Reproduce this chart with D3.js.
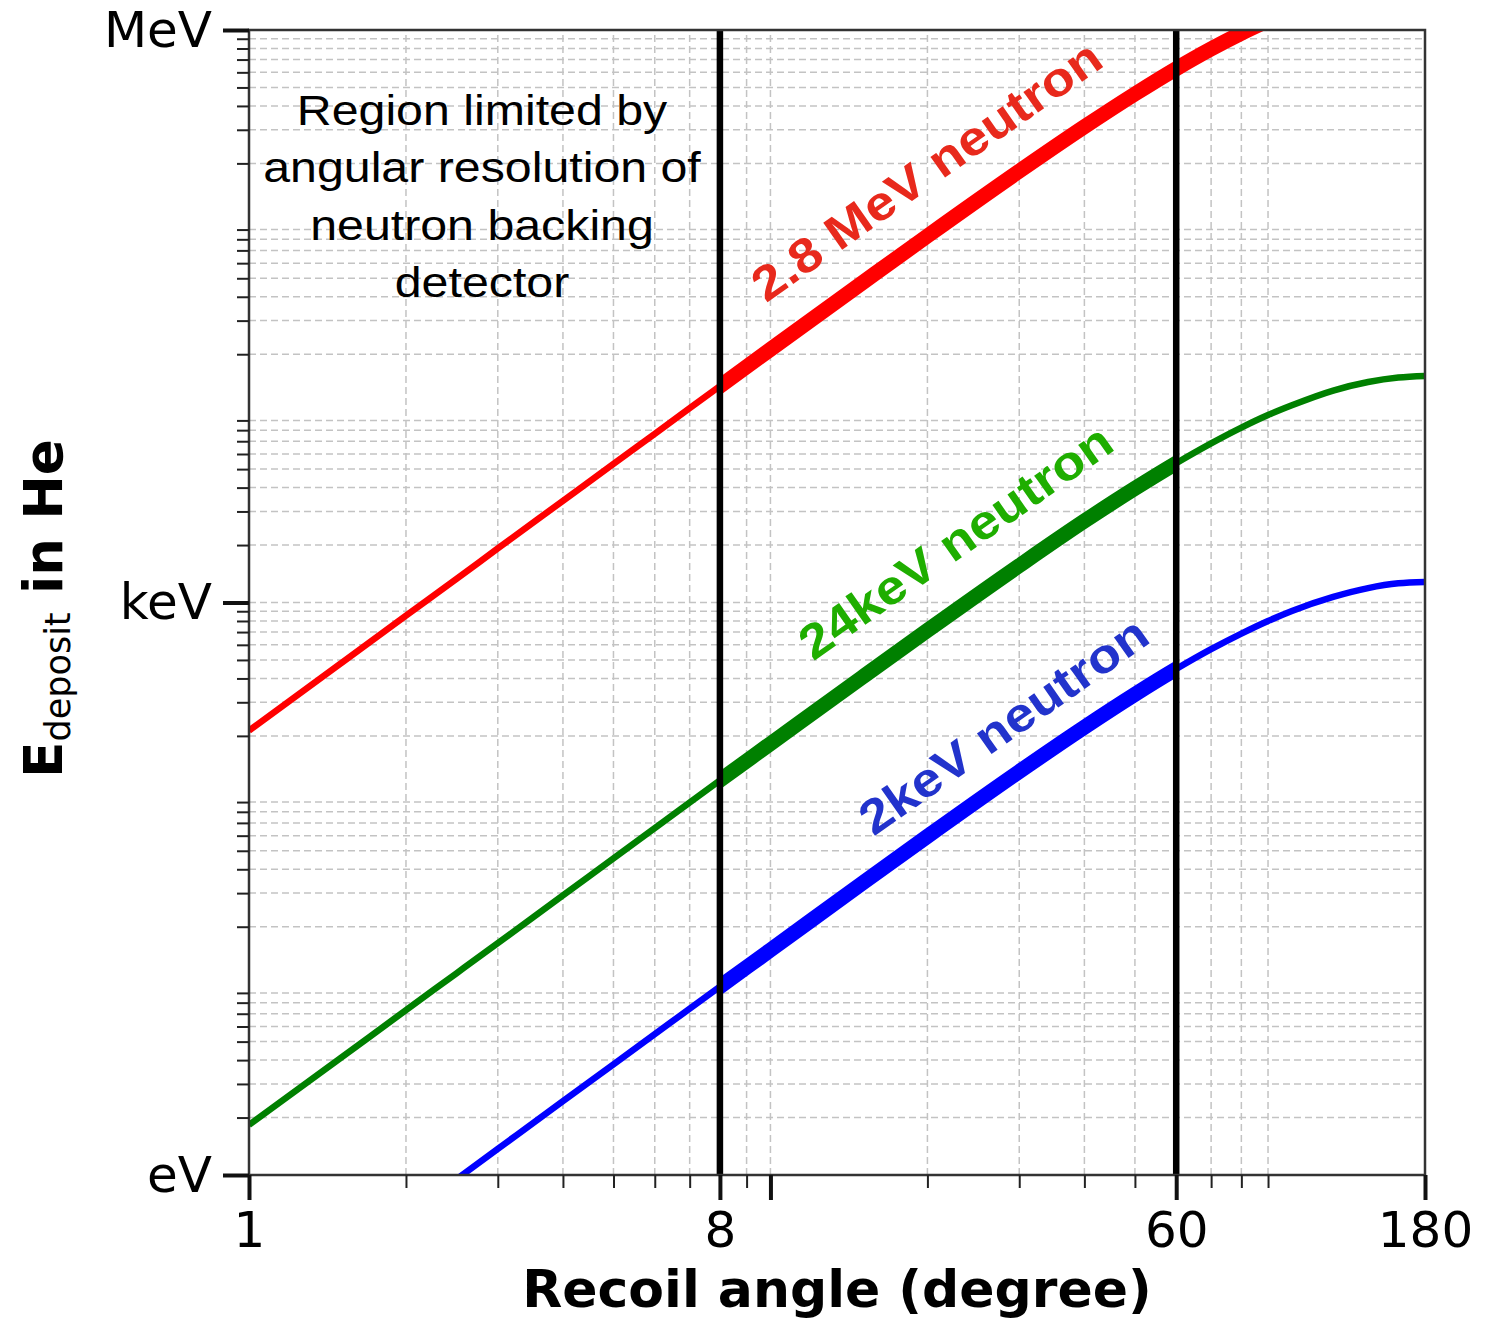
<!DOCTYPE html>
<html>

<head>
    <meta charset="utf-8">
    <title>Recoil energy in He</title>
    <script type="text/javascript" src="https://cdn.jsdelivr.net/npm/d3@7"></script>
    <style>
        body { margin: 0; background: #fff; }
        .grid line { stroke: #c3c3c3; stroke-width: 1.5; stroke-dasharray: 7, 4; }
        .axis text { font-family: "DejaVu Sans", sans-serif; font-size: 50px; fill: #000; }
        .axis path { display: none; }
        .curve { fill: none; stroke-linejoin: round; }
    </style>
</head>

<body>

    <script type="text/javascript">
        // neutron lab scattering angle (degree)
        let angles = [1, 1.5, 2, 2.5, 3, 4, 5, 6, 8, 10, 15, 20, 30, 40, 50, 60, 70, 80, 90, 100, 120, 140, 160, 180];

        // deposited energy in He (eV); null = outside the frame
        let mev28 = [213, 480, 853, 1330, 1920, 3410, 5330, 7660, 13600, 21200, 47300, 83300, 182000, 311000, 462000, 627000, 796000, 962000, 1120000, null, null, null, null, null];
        let kev24 = [1.83, 4.11, 7.31, 11.4, 16.4, 29.2, 45.6, 65.7, 117, 182, 406, 714, 1560, 2670, 3960, 5370, 6820, 8250, 9600, 10800, 12900, 14300, 15100, 15400];
        let kev2 = [null, null, null, 0.95, 1.37, 2.44, 3.80, 5.47, 9.71, 15.1, 33.8, 59.5, 130, 222, 330, 448, 569, 687, 800, 903, 1070, 1190, 1260, 1280];

        let seriesNames = ["2.8 MeV neutron", "24keV neutron", "2keV neutron"];

        let xMajorTicks = [1, 8, 10, 60, 180];
        let xTickLabels = ["1", "8", "", "60", "180"];
        let yMajorTicks = [1, 1e3, 1e6];
        let yTickLabels = ["eV", "keV", "MeV"];

        // angular window of the backing detector
        let cutAngles = [8, 60];

        let _width = 1493, _height = 1321,
            _margins = { left: 249, top: 30, right: 68, bottom: 146 };

        let x = d3.scaleLog().domain([1, 180]).range([_margins.left, _width - _margins.right]);
        let y = d3.scaleLog().domain([1, 1e6]).range([_height - _margins.bottom, _margins.top]);

        let svg = d3.select("body").append("svg")
            .attr("width", _width)
            .attr("height", _height);

        let plotW = x.range()[1] - x.range()[0],
            plotH = y.range()[0] - y.range()[1];

        let defs = svg.append("defs");
        defs.append("clipPath").attr("id", "plot-clip")
            .append("rect")
            .attr("x", x.range()[0]).attr("y", y.range()[1])
            .attr("width", plotW).attr("height", plotH);

        // minor ticks from the log scales, minus the decades that carry no tick
        let xMinor = x.ticks().filter(function (t) { return t < 100 && xMajorTicks.indexOf(t) < 0; });
        let yMinor = y.ticks().filter(function (t) {
            let m = t / Math.pow(10, Math.floor(Math.log10(t) + 1e-9));
            return Math.abs(m - 1) > 1e-6;
        });

        // grid
        let grid = svg.append("g").attr("class", "grid");
        grid.selectAll("line.v")
            .data(xMinor.concat([10]))
            .enter().append("line")
            .attr("x1", function (d) { return x(d); })
            .attr("x2", function (d) { return x(d); })
            .attr("y1", y.range()[0])
            .attr("y2", y.range()[1]);
        grid.selectAll("line.h")
            .data(yMinor.concat([1e3]))
            .enter().append("line")
            .attr("y1", function (d) { return y(d); })
            .attr("y2", function (d) { return y(d); })
            .attr("x1", x.range()[0])
            .attr("x2", x.range()[1]);

        // curves
        let series = [
            { name: seriesNames[0], values: mev28, color: "#ff0000", label: "#e8291c", thickTo: 180 },
            { name: seriesNames[1], values: kev24, color: "#008000", label: "#1fae00", thickTo: cutAngles[1] },
            { name: seriesNames[2], values: kev2, color: "#0000ff", label: "#2233cc", thickTo: cutAngles[1] }
        ];

        let line = d3.line()
            .defined(function (d) { return d[1] != null; })
            .x(function (d) { return x(d[0]); })
            .y(function (d) { return y(d[1]); })
            .curve(d3.curveMonotoneX);

        let body = svg.append("g").attr("clip-path", "url(#plot-clip)");

        series.forEach(function (s, i) {
            let pts = d3.zip(angles, s.values);

            body.append("path")
                .attr("class", "curve")
                .attr("d", line(pts))
                .style("stroke", s.color)
                .style("stroke-width", 6.5);

            let x0 = x(cutAngles[0]) + 3, x1 = x(s.thickTo);
            defs.append("clipPath").attr("id", "thick-" + i)
                .append("rect")
                .attr("x", x0).attr("y", y.range()[1])
                .attr("width", x1 - x0).attr("height", plotH);

            body.append("g").attr("clip-path", "url(#thick-" + i + ")")
                .append("path")
                .attr("class", "curve")
                .attr("d", line(pts))
                .style("stroke", s.color)
                .style("stroke-width", 15);
        });

        // detector limits
        svg.selectAll("line.cut")
            .data(cutAngles)
            .enter().append("line")
            .attr("class", "cut")
            .attr("x1", function (d) { return x(d); })
            .attr("x2", function (d) { return x(d); })
            .attr("y1", y.range()[0])
            .attr("y2", y.range()[1])
            .style("stroke", "#000")
            .style("stroke-width", 6.5);

        // frame
        svg.append("rect")
            .attr("x", x.range()[0]).attr("y", y.range()[1])
            .attr("width", plotW).attr("height", plotH)
            .style("fill", "none")
            .style("stroke", "#333")
            .style("stroke-width", 2.5);

        // axes
        let bottom = y.range()[0], left = x.range()[0];

        svg.append("g").attr("class", "axis")
            .attr("transform", "translate(0," + bottom + ")")
            .call(d3.axisBottom(x).tickValues(xMinor).tickSize(13).tickFormat(""))
            .selectAll("line").style("stroke", "#222").style("stroke-width", 2);

        svg.append("g").attr("class", "axis")
            .attr("transform", "translate(0," + bottom + ")")
            .call(d3.axisBottom(x).tickValues(xMajorTicks).tickSize(25).tickPadding(11)
                .tickFormat(function (d, i) { return xTickLabels[i]; }))
            .selectAll("line").style("stroke", "#111").style("stroke-width", 4);

        svg.append("g").attr("class", "axis")
            .attr("transform", "translate(" + left + ",0)")
            .call(d3.axisLeft(y).tickValues(yMinor).tickSize(12).tickFormat(""))
            .selectAll("line").style("stroke", "#222").style("stroke-width", 2);

        svg.append("g").attr("class", "axis")
            .attr("transform", "translate(" + left + ",0)")
            .call(d3.axisLeft(y).tickValues(yMajorTicks).tickSize(26).tickPadding(11)
                .tickFormat(function (d, i) { return yTickLabels[i]; }))
            .selectAll("line").style("stroke", "#111").style("stroke-width", 4);

        // axis titles
        svg.append("text")
            .attr("x", (x.range()[0] + x.range()[1]) / 2)
            .attr("y", 1307)
            .attr("text-anchor", "middle")
            .style("font-family", "DejaVu Sans, sans-serif")
            .style("font-weight", "bold")
            .style("font-size", "52px")
            .text("Recoil angle (degree)");

        let yTitle = svg.append("text")
            .attr("transform", "translate(62," + ((y.range()[0] + y.range()[1]) / 2 + 6) + ") rotate(-90)")
            .attr("text-anchor", "middle")
            .style("font-family", "DejaVu Sans, sans-serif")
            .style("font-size", "53px");
        yTitle.append("tspan").style("font-weight", "bold").text("E");
        yTitle.append("tspan").attr("dy", 8).style("font-size", "35px").text("deposit");
        yTitle.append("tspan").attr("dy", -8).style("font-weight", "bold").text(" in He");

        // annotation
        let noteLines = ["Region limited by", "angular resolution of", "neutron backing", "detector"];
        let note = svg.append("g")
            .attr("transform", "translate(482,0) scale(1.15,1)");
        note.selectAll("text")
            .data(noteLines)
            .enter().append("text")
            .attr("x", 0)
            .attr("y", function (d, i) { return 125 + i * 57.5; })
            .attr("text-anchor", "middle")
            .style("font-family", "Liberation Sans, Arial, sans-serif")
            .style("font-size", "42px")
            .style("fill", "#000")
            .text(function (d) { return d; });

        // curve labels
        let labelPos = [[926, 170], [955, 541], [1003, 725]];
        series.forEach(function (s, i) {
            svg.append("text")
                .attr("transform", "translate(" + labelPos[i][0] + "," + labelPos[i][1] + ") rotate(-35) scale(1.12,1)")
                .attr("text-anchor", "middle")
                .attr("dy", "0.36em")
                .style("font-family", "Liberation Sans, Arial, sans-serif")
                .style("font-weight", "bold")
                .style("font-size", "48px")
                .style("fill", s.label)
                .text(s.name);
        });
    </script>

</body>

</html>
